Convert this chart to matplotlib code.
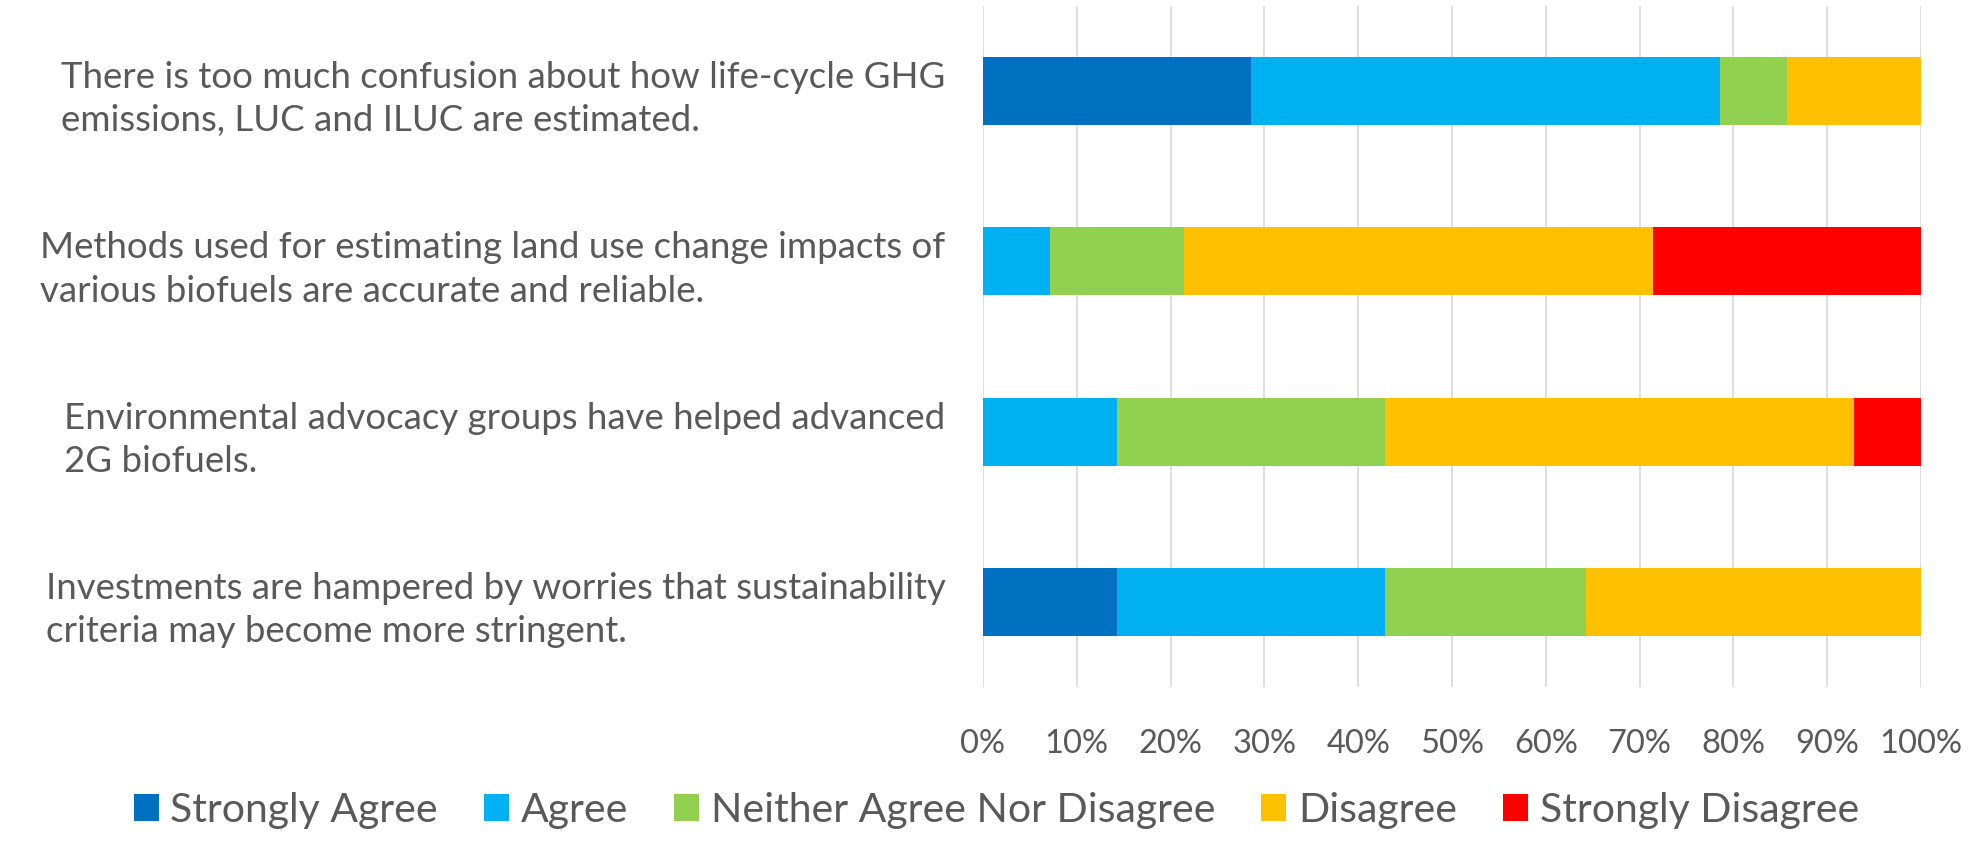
import matplotlib.pyplot as plt
import numpy as np

# statements, top to bottom as shown
statements = [
    'There is too much confusion about how life-cycle GHG\nemissions, LUC and ILUC are estimated.',
    'Methods used for estimating land use change impacts of\nvarious biofuels are accurate and reliable.',
    'Environmental advocacy groups have helped advanced\n2G biofuels.',
    'Investments are hampered by worries that sustainability\ncriteria may become more stringent.',
]
responses = ['Strongly Agree', 'Agree', 'Neither Agree Nor Disagree', 'Disagree', 'Strongly Disagree']
colors = ['#0070C0', '#00B0F0', '#92D050', '#FFC000', '#FF0000']

# percent of respondents per statement
strongly_agree = [28.6, 0.0, 0.0, 14.3]
agree = [50.0, 7.1, 14.3, 28.6]
neither = [7.1, 14.3, 28.6, 21.4]
disagree = [14.3, 50.0, 50.0, 35.7]
strongly_disagree = [0.0, 28.6, 7.1, 0.0]
series = [strongly_agree, agree, neither, disagree, strongly_disagree]

plt.rcParams['font.family'] = ['Lato', 'DejaVu Sans']
txt = '#595959'

fig = plt.figure(figsize=(19.77, 8.41), dpi=100)
ax = fig.add_axes([0.4972, 0.1831, 0.4745, 0.8098])

y = np.arange(len(statements))
left = np.zeros(len(statements))
for vals, name, c in zip(series, responses, colors):
    vals = np.array(vals)
    ax.barh(y, vals, left=left, height=0.4, color=c, label=name)
    left += vals

ax.set_xlim(0, 100)
ax.set_ylim(len(statements) - 0.5, -0.5)
ax.set_xticks(np.arange(0, 101, 10))
ax.set_xticklabels([f'{v}%' for v in range(0, 101, 10)], fontsize=23.5, color=txt)
ax.set_yticks(y)
ax.set_yticklabels(statements, fontsize=26.4, color=txt, ha='right', multialignment='left', linespacing=1.38)
ax.tick_params(length=0, axis='x', pad=30)
ax.tick_params(length=0, axis='y', pad=27)
ax.grid(axis='x', color='#D9D9D9', linewidth=1.2)
ax.set_axisbelow(True)
for s in ax.spines.values():
    s.set_visible(False)

leg = fig.legend(loc='center', bbox_to_anchor=(0.504, 0.0363), ncol=5, frameon=False,
                 fontsize=29.5, handlelength=0.61, handleheight=0.61, columnspacing=1.12,
                 handletextpad=0.29, borderpad=0)
for t in leg.get_texts():
    t.set_color(txt)

fig.savefig('out.png', dpi=100)
